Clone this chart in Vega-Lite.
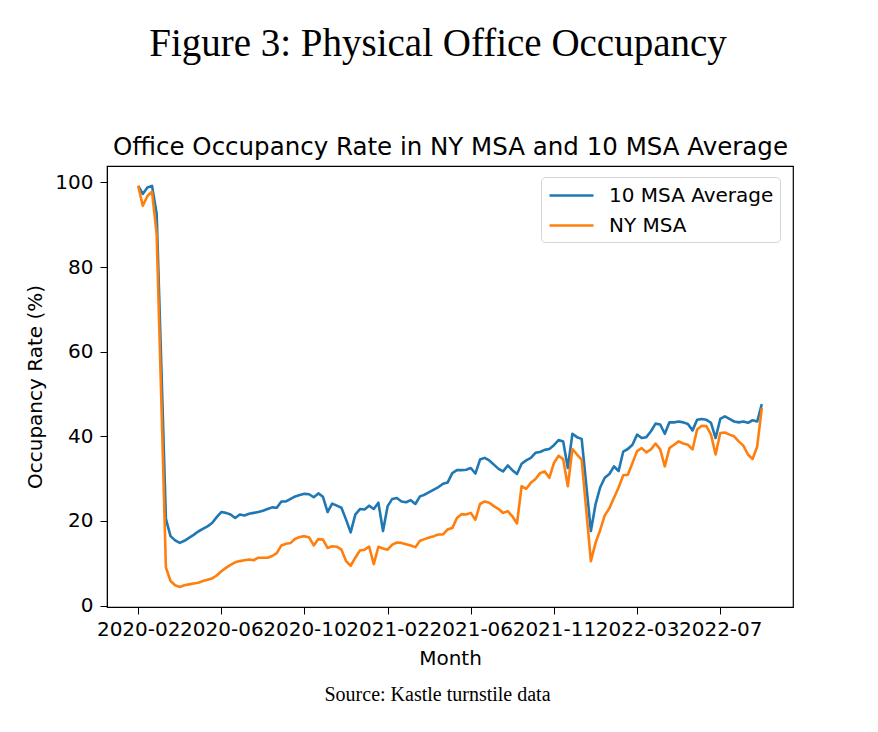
{
  "$schema": "https://vega.github.io/schema/vega-lite/v6.json",
  "width": 686,
  "height": 441,
  "autosize": "none",
  "padding": {"left": 107, "top": 166, "right": 85, "bottom": 125},
  "background": "white",
  "title": {
    "text": "Figure 3: Physical Office Occupancy",
    "font": "Liberation Serif", "fontSize": 39, "fontWeight": "normal", "color": "black",
    "anchor": "middle", "dx": -12, "offset": 70
  },
  "data": {"values": [
    {"week": "2020-02-12", "10 MSA Average": 99.2, "NY MSA": 99.2},
    {"week": "2020-02-19", "10 MSA Average": 97.3, "NY MSA": 94.5},
    {"week": "2020-02-26", "10 MSA Average": 98.8, "NY MSA": 96.8},
    {"week": "2020-03-04", "10 MSA Average": 99.2, "NY MSA": 97.8},
    {"week": "2020-03-11", "10 MSA Average": 92.6, "NY MSA": 87.8},
    {"week": "2020-03-18", "10 MSA Average": 57.0, "NY MSA": 49.0},
    {"week": "2020-03-25", "10 MSA Average": 20.5, "NY MSA": 9.0},
    {"week": "2020-04-01", "10 MSA Average": 16.4, "NY MSA": 5.8},
    {"week": "2020-04-08", "10 MSA Average": 15.4, "NY MSA": 4.8},
    {"week": "2020-04-15", "10 MSA Average": 14.8, "NY MSA": 4.4},
    {"week": "2020-04-22", "10 MSA Average": 15.3, "NY MSA": 4.8},
    {"week": "2020-04-29", "10 MSA Average": 16.0, "NY MSA": 5.0},
    {"week": "2020-05-06", "10 MSA Average": 16.7, "NY MSA": 5.2},
    {"week": "2020-05-13", "10 MSA Average": 17.5, "NY MSA": 5.4},
    {"week": "2020-05-20", "10 MSA Average": 18.1, "NY MSA": 5.8},
    {"week": "2020-05-27", "10 MSA Average": 18.7, "NY MSA": 6.1},
    {"week": "2020-06-03", "10 MSA Average": 19.5, "NY MSA": 6.4},
    {"week": "2020-06-10", "10 MSA Average": 20.9, "NY MSA": 7.1},
    {"week": "2020-06-17", "10 MSA Average": 22.1, "NY MSA": 8.1},
    {"week": "2020-06-24", "10 MSA Average": 21.9, "NY MSA": 8.9},
    {"week": "2020-07-01", "10 MSA Average": 21.5, "NY MSA": 9.6},
    {"week": "2020-07-08", "10 MSA Average": 20.7, "NY MSA": 10.2},
    {"week": "2020-07-15", "10 MSA Average": 21.5, "NY MSA": 10.5},
    {"week": "2020-07-22", "10 MSA Average": 21.3, "NY MSA": 10.7},
    {"week": "2020-07-29", "10 MSA Average": 21.7, "NY MSA": 10.9},
    {"week": "2020-08-05", "10 MSA Average": 21.9, "NY MSA": 10.7},
    {"week": "2020-08-12", "10 MSA Average": 22.1, "NY MSA": 11.3},
    {"week": "2020-08-19", "10 MSA Average": 22.4, "NY MSA": 11.3},
    {"week": "2020-08-26", "10 MSA Average": 22.8, "NY MSA": 11.3},
    {"week": "2020-09-02", "10 MSA Average": 23.2, "NY MSA": 11.7},
    {"week": "2020-09-09", "10 MSA Average": 23.1, "NY MSA": 12.4},
    {"week": "2020-09-16", "10 MSA Average": 24.6, "NY MSA": 14.2},
    {"week": "2020-09-23", "10 MSA Average": 24.6, "NY MSA": 14.6},
    {"week": "2020-09-30", "10 MSA Average": 25.2, "NY MSA": 14.8},
    {"week": "2020-10-07", "10 MSA Average": 25.8, "NY MSA": 15.8},
    {"week": "2020-10-14", "10 MSA Average": 26.1, "NY MSA": 16.2},
    {"week": "2020-10-21", "10 MSA Average": 26.4, "NY MSA": 16.4},
    {"week": "2020-10-28", "10 MSA Average": 26.3, "NY MSA": 16.1},
    {"week": "2020-11-04", "10 MSA Average": 25.6, "NY MSA": 14.2},
    {"week": "2020-11-11", "10 MSA Average": 26.5, "NY MSA": 15.7},
    {"week": "2020-11-18", "10 MSA Average": 25.7, "NY MSA": 15.6},
    {"week": "2020-11-25", "10 MSA Average": 22.1, "NY MSA": 13.6},
    {"week": "2020-12-02", "10 MSA Average": 24.1, "NY MSA": 14.0},
    {"week": "2020-12-09", "10 MSA Average": 23.6, "NY MSA": 13.9},
    {"week": "2020-12-16", "10 MSA Average": 23.1, "NY MSA": 13.2},
    {"week": "2020-12-23", "10 MSA Average": 20.3, "NY MSA": 10.5},
    {"week": "2020-12-30", "10 MSA Average": 17.3, "NY MSA": 9.4},
    {"week": "2021-01-06", "10 MSA Average": 21.5, "NY MSA": 11.3},
    {"week": "2021-01-13", "10 MSA Average": 22.8, "NY MSA": 13.0},
    {"week": "2021-01-20", "10 MSA Average": 22.7, "NY MSA": 13.2},
    {"week": "2021-01-27", "10 MSA Average": 23.6, "NY MSA": 13.9},
    {"week": "2021-02-03", "10 MSA Average": 22.8, "NY MSA": 9.8},
    {"week": "2021-02-10", "10 MSA Average": 24.3, "NY MSA": 13.9},
    {"week": "2021-02-17", "10 MSA Average": 17.6, "NY MSA": 13.5},
    {"week": "2021-02-24", "10 MSA Average": 23.5, "NY MSA": 13.2},
    {"week": "2021-03-03", "10 MSA Average": 25.2, "NY MSA": 14.4},
    {"week": "2021-03-10", "10 MSA Average": 25.4, "NY MSA": 14.9},
    {"week": "2021-03-17", "10 MSA Average": 24.6, "NY MSA": 14.8},
    {"week": "2021-03-24", "10 MSA Average": 24.4, "NY MSA": 14.5},
    {"week": "2021-03-31", "10 MSA Average": 24.9, "NY MSA": 14.2},
    {"week": "2021-04-07", "10 MSA Average": 24.0, "NY MSA": 13.8},
    {"week": "2021-04-14", "10 MSA Average": 25.8, "NY MSA": 15.3},
    {"week": "2021-04-21", "10 MSA Average": 26.2, "NY MSA": 15.7},
    {"week": "2021-04-28", "10 MSA Average": 26.8, "NY MSA": 16.1},
    {"week": "2021-05-05", "10 MSA Average": 27.4, "NY MSA": 16.4},
    {"week": "2021-05-12", "10 MSA Average": 28.0, "NY MSA": 16.8},
    {"week": "2021-05-19", "10 MSA Average": 28.8, "NY MSA": 16.8},
    {"week": "2021-05-26", "10 MSA Average": 29.1, "NY MSA": 18.0},
    {"week": "2021-06-02", "10 MSA Average": 31.3, "NY MSA": 18.3},
    {"week": "2021-06-09", "10 MSA Average": 32.0, "NY MSA": 20.7},
    {"week": "2021-06-16", "10 MSA Average": 32.0, "NY MSA": 21.6},
    {"week": "2021-06-23", "10 MSA Average": 32.1, "NY MSA": 21.5},
    {"week": "2021-06-30", "10 MSA Average": 32.5, "NY MSA": 21.9},
    {"week": "2021-07-07", "10 MSA Average": 31.2, "NY MSA": 20.3},
    {"week": "2021-07-14", "10 MSA Average": 34.5, "NY MSA": 24.0},
    {"week": "2021-07-21", "10 MSA Average": 34.9, "NY MSA": 24.6},
    {"week": "2021-07-28", "10 MSA Average": 34.3, "NY MSA": 24.3},
    {"week": "2021-08-04", "10 MSA Average": 33.3, "NY MSA": 23.5},
    {"week": "2021-08-11", "10 MSA Average": 32.3, "NY MSA": 22.8},
    {"week": "2021-08-18", "10 MSA Average": 31.7, "NY MSA": 21.9},
    {"week": "2021-08-25", "10 MSA Average": 33.1, "NY MSA": 22.3},
    {"week": "2021-09-01", "10 MSA Average": 32.0, "NY MSA": 21.1},
    {"week": "2021-09-08", "10 MSA Average": 31.1, "NY MSA": 19.4},
    {"week": "2021-09-15", "10 MSA Average": 33.5, "NY MSA": 28.2},
    {"week": "2021-09-22", "10 MSA Average": 34.3, "NY MSA": 27.6},
    {"week": "2021-09-29", "10 MSA Average": 34.9, "NY MSA": 29.0},
    {"week": "2021-10-06", "10 MSA Average": 36.1, "NY MSA": 29.9},
    {"week": "2021-10-13", "10 MSA Average": 36.3, "NY MSA": 31.3},
    {"week": "2021-10-20", "10 MSA Average": 36.8, "NY MSA": 31.7},
    {"week": "2021-10-27", "10 MSA Average": 37.0, "NY MSA": 30.2},
    {"week": "2021-11-03", "10 MSA Average": 37.9, "NY MSA": 33.7},
    {"week": "2021-11-10", "10 MSA Average": 39.1, "NY MSA": 35.4},
    {"week": "2021-11-17", "10 MSA Average": 38.8, "NY MSA": 34.6},
    {"week": "2021-11-24", "10 MSA Average": 32.5, "NY MSA": 28.2},
    {"week": "2021-12-01", "10 MSA Average": 40.6, "NY MSA": 37.0},
    {"week": "2021-12-08", "10 MSA Average": 39.8, "NY MSA": 35.7},
    {"week": "2021-12-15", "10 MSA Average": 39.4, "NY MSA": 34.5},
    {"week": "2021-12-22", "10 MSA Average": 28.5, "NY MSA": 22.5},
    {"week": "2021-12-29", "10 MSA Average": 17.6, "NY MSA": 10.5},
    {"week": "2022-01-05", "10 MSA Average": 23.9, "NY MSA": 14.8},
    {"week": "2022-01-12", "10 MSA Average": 27.9, "NY MSA": 17.8},
    {"week": "2022-01-19", "10 MSA Average": 30.2, "NY MSA": 21.3},
    {"week": "2022-01-26", "10 MSA Average": 31.1, "NY MSA": 23.0},
    {"week": "2022-02-02", "10 MSA Average": 32.9, "NY MSA": 25.5},
    {"week": "2022-02-09", "10 MSA Average": 31.8, "NY MSA": 27.9},
    {"week": "2022-02-16", "10 MSA Average": 36.4, "NY MSA": 30.8},
    {"week": "2022-02-23", "10 MSA Average": 37.0, "NY MSA": 30.9},
    {"week": "2022-03-02", "10 MSA Average": 38.0, "NY MSA": 33.7},
    {"week": "2022-03-09", "10 MSA Average": 40.4, "NY MSA": 36.5},
    {"week": "2022-03-16", "10 MSA Average": 39.6, "NY MSA": 37.2},
    {"week": "2022-03-23", "10 MSA Average": 39.8, "NY MSA": 36.2},
    {"week": "2022-03-30", "10 MSA Average": 41.2, "NY MSA": 36.9},
    {"week": "2022-04-06", "10 MSA Average": 43.0, "NY MSA": 38.3},
    {"week": "2022-04-13", "10 MSA Average": 42.8, "NY MSA": 36.9},
    {"week": "2022-04-20", "10 MSA Average": 40.6, "NY MSA": 32.9},
    {"week": "2022-04-27", "10 MSA Average": 43.3, "NY MSA": 37.2},
    {"week": "2022-05-04", "10 MSA Average": 43.3, "NY MSA": 38.0},
    {"week": "2022-05-11", "10 MSA Average": 43.5, "NY MSA": 38.8},
    {"week": "2022-05-18", "10 MSA Average": 43.3, "NY MSA": 38.3},
    {"week": "2022-05-25", "10 MSA Average": 42.9, "NY MSA": 38.0},
    {"week": "2022-06-01", "10 MSA Average": 41.4, "NY MSA": 36.9},
    {"week": "2022-06-08", "10 MSA Average": 43.9, "NY MSA": 41.6},
    {"week": "2022-06-15", "10 MSA Average": 44.1, "NY MSA": 42.5},
    {"week": "2022-06-22", "10 MSA Average": 43.9, "NY MSA": 42.4},
    {"week": "2022-06-29", "10 MSA Average": 43.2, "NY MSA": 40.4},
    {"week": "2022-07-06", "10 MSA Average": 39.6, "NY MSA": 35.7},
    {"week": "2022-07-13", "10 MSA Average": 44.1, "NY MSA": 40.8},
    {"week": "2022-07-20", "10 MSA Average": 44.7, "NY MSA": 40.9},
    {"week": "2022-07-27", "10 MSA Average": 44.1, "NY MSA": 40.4},
    {"week": "2022-08-03", "10 MSA Average": 43.5, "NY MSA": 40.0},
    {"week": "2022-08-10", "10 MSA Average": 43.3, "NY MSA": 38.8},
    {"week": "2022-08-17", "10 MSA Average": 43.5, "NY MSA": 37.8},
    {"week": "2022-08-24", "10 MSA Average": 43.2, "NY MSA": 35.7},
    {"week": "2022-08-31", "10 MSA Average": 43.8, "NY MSA": 34.6},
    {"week": "2022-09-07", "10 MSA Average": 43.5, "NY MSA": 37.6},
    {"week": "2022-09-14", "10 MSA Average": 47.6, "NY MSA": 46.7}
  ]},
  "transform": [
    {"fold": ["10 MSA Average", "NY MSA"], "as": ["series", "rate"]}
  ],
  "layer": [
    {
      "mark": {"type": "line", "strokeWidth": 2.6, "strokeJoin": "round"},
      "encoding": {
        "x": {
          "field": "week", "type": "temporal",
          "scale": {"type": "utc", "nice": false, "domain": [
            {"year": 2019, "month": 12, "date": 26, "hours": 18, "utc": true},
            {"year": 2022, "month": 10, "date": 31, "hours": 6, "utc": true}
          ]},
          "axis": {
            "orient": "bottom", "title": "Month", "format": "%Y-%m",
            "values": [
              {"year": 2020, "month": 2, "date": 12, "utc": true},
              {"year": 2020, "month": 6, "date": 17, "utc": true},
              {"year": 2020, "month": 10, "date": 21, "utc": true},
              {"year": 2021, "month": 2, "date": 24, "utc": true},
              {"year": 2021, "month": 6, "date": 30, "utc": true},
              {"year": 2021, "month": 11, "date": 3, "utc": true},
              {"year": 2022, "month": 3, "date": 9, "utc": true},
              {"year": 2022, "month": 7, "date": 13, "utc": true}
            ],
            "labelFontSize": 20, "labelPadding": 5, "labelOverlap": false, "labelFlush": false,
            "titleFontSize": 20, "titlePadding": 9
          }
        },
        "y": {
          "field": "rate", "type": "quantitative",
          "scale": {"domain": [-0.35, 103.9], "nice": false, "zero": false},
          "axis": {
            "title": "Occupancy Rate (%)", "values": [0, 20, 40, 60, 80, 100],
            "labelFontSize": 20, "labelPadding": 7, "titleFontSize": 20, "titlePadding": 9
          }
        },
        "color": {
          "field": "series", "type": "nominal",
          "scale": {"domain": ["10 MSA Average", "NY MSA"], "range": ["#1f77b4", "#ff7f0e"]},
          "legend": {
            "title": null, "orient": "none", "legendX": 434, "legendY": 11,
            "fillColor": "white", "strokeColor": "#d5d5d5", "cornerRadius": 4, "padding": 6,
            "symbolType": "M-2,0H2", "symbolStrokeWidth": 2.6, "symbolSize": 484, "symbolOffset": 12,
            "labelFontSize": 20, "labelFont": "DejaVu Sans", "labelColor": "black",
            "labelLimit": 0, "labelOffset": 25, "rowPadding": 7
          }
        }
      }
    },
    {
      "mark": {"type": "rule", "opacity": 0},
      "encoding": {
        "x": {
          "field": "week", "type": "temporal",
          "scale": {"type": "utc", "nice": false, "domain": [
            {"year": 2019, "month": 12, "date": 26, "hours": 18, "utc": true},
            {"year": 2022, "month": 10, "date": 31, "hours": 6, "utc": true}
          ]},
          "axis": {
            "orient": "top", "title": "Office Occupancy Rate in NY MSA and 10 MSA Average",
            "labels": false, "ticks": false, "domain": false,
            "titleFontSize": 24.5, "titlePadding": 7
          }
        }
      }
    },
    {
      "mark": {"type": "rule", "opacity": 0},
      "encoding": {
        "x": {
          "field": "week", "type": "temporal",
          "scale": {"type": "utc", "nice": false, "domain": [
            {"year": 2019, "month": 12, "date": 26, "hours": 18, "utc": true},
            {"year": 2022, "month": 10, "date": 31, "hours": 6, "utc": true}
          ]},
          "axis": {
            "orient": "bottom", "title": "Source: Kastle turnstile data",
            "labels": false, "ticks": false, "domain": false,
            "titleFont": "Liberation Serif", "titleFontSize": 20, "titlePadding": 77,
            "titleX": 330, "titleAlign": "center"
          }
        }
      }
    }
  ],
  "resolve": {"axis": {"x": "independent"}},
  "config": {
    "font": "DejaVu Sans",
    "view": {"stroke": "black", "strokeWidth": 1.2},
    "axis": {
      "grid": false, "domainColor": "black", "tickColor": "black", "tickSize": 7,
      "labelColor": "black", "titleColor": "black", "titleFontWeight": "normal",
      "labelFont": "DejaVu Sans", "titleFont": "DejaVu Sans"
    }
  }
}
